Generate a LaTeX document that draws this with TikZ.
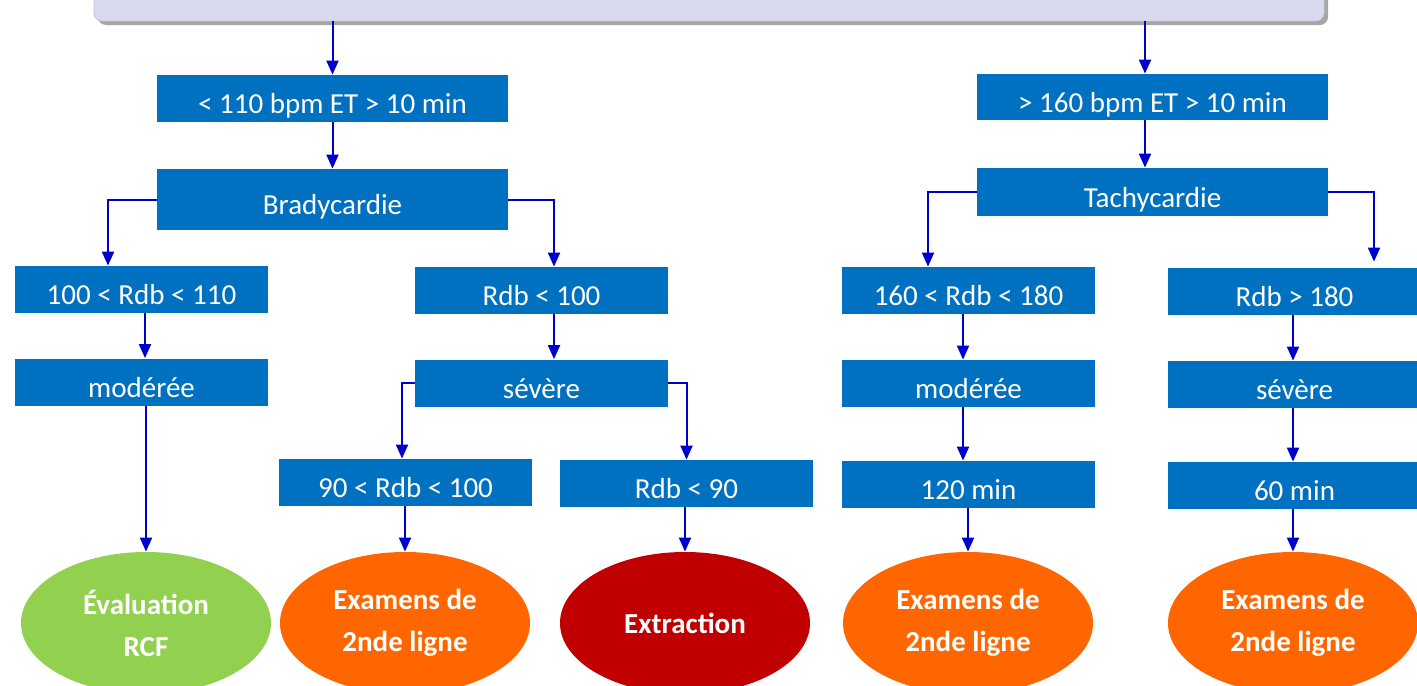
\documentclass[tikz,border=0pt]{standalone}
\usepackage{fontspec}
\setmainfont{Carlito}
\usepackage{xcolor}
\usetikzlibrary{arrows.meta}
\usetikzlibrary{shapes.geometric}
\usetikzlibrary{shadows}

\definecolor{boite}{HTML}{0070C0}
\definecolor{trait}{HTML}{0000CC}
\definecolor{vert}{HTML}{92D050}
\definecolor{orange}{HTML}{FF6600}
\definecolor{rouge}{HTML}{C00000}
\definecolor{lavande}{HTML}{DADAEE}
\definecolor{bordure}{HTML}{C2C2DE}

\begin{document}
\begin{tikzpicture}
    [x=0.5pt, y=-0.5pt,
    etape/.style={rectangle, fill=boite, text=white, inner sep=0pt, text height=17pt, text depth=2pt, font=\fontsize{14.5}{17}\selectfont},
    issue/.style={ellipse, text=white, inner sep=0pt, minimum width=125pt, minimum height=71pt, align=center, font=\fontsize{14.5}{21}\selectfont\bfseries},
    fleche/.style={draw=trait, line width=1pt, -{Triangle[length=7pt,width=6pt]}}]
    \useasboundingbox (0,0) rectangle (1417,685);
    \clip (0,0) rectangle (1417,685);

    \node(titre)[rectangle, rounded corners=4pt, draw=bordure, fill=lavande, minimum width=615pt, minimum height=26pt,
        drop shadow={shadow xshift=2pt, shadow yshift=-2pt, fill=black!35, opacity=1}] at (709,-5) {};

    % boites
    \foreach \n/\x/\y/\w/\h/\t in {seuilBrady/332.5/98.5/175.5/23.5/{< 110 bpm ET > 10 min},
        seuilTachy/1152.5/97/175.5/23/{> 160 bpm ET > 10 min},
        brady/332.5/199.5/175.5/30.5/Bradycardie,
        tachy/1152.5/192/175.5/24/Tachycardie,
        c1/141.5/289.5/126.5/23.5/{100 < Rdb < 110},
        c2/541.5/290.5/126.5/23.5/{Rdb < 100},
        c3/968.5/290.5/126.5/23.5/{160 < Rdb < 180},
        c4/1294.5/291.5/126.5/23.5/{Rdb > 180},
        m1/141.5/382/126.5/23.5/modérée,
        s1/541.5/383/126.5/23.5/sévère,
        m2/968.5/383.5/126.5/23.5/modérée,
        s2/1294.5/384.5/126.5/23.5/sévère,
        d1/405.5/482.5/126.5/23.5/{90 < Rdb < 100},
        d2/686.5/483.5/126.5/23.5/{Rdb < 90},
        t1/968.5/484.5/126.5/23.5/{120 min},
        t2/1294.5/485.5/126.5/23.5/{60 min}}{
        \node(\n)[etape, minimum width=\w pt, minimum height=\h pt] at (\x,\y) {\t};
    }

    % issues
    \foreach \n/\x/\z/\t in {e1/146/vert/{Évaluation\\RCF},
        e2/405/orange/{Examens de\\2nde ligne},
        e3/685/rouge/Extraction,
        e4/968/orange/{Examens de\\2nde ligne},
        e5/1293/orange/{Examens de\\2nde ligne}}{
        \node(\n)[issue, fill=\z] at (\x,623) {\t};
    }

    % fleches
    \draw[fleche] (titre.south -| seuilBrady.north) -- (seuilBrady.north);
    \draw[fleche] ([xshift=-3.75pt]seuilTachy.north |- titre.south) -- ([xshift=-3.75pt]seuilTachy.north);
    \draw[fleche] (brady.west) -| ([xshift=-16.75pt]c1.north);
    \draw[fleche] (brady.east) -| ([xshift=6.25pt]c2.north);
    \draw[fleche] (tachy.west) -| ([xshift=-20.25pt]c3.north);
    \draw[fleche] (tachy.east) -| ([xshift=39.75pt,yshift=3pt]c4.north);
    \draw[fleche] (s1.west) -| ([xshift=-1.75pt]d1.north);
    \draw[fleche] (s1.east) -| (d2.north);
    \foreach \a/\b/\d in {seuilBrady/brady/0, seuilTachy/tachy/-3.75, c1/m1/1.75, c2/s1/6.25, c3/m2/-2.75,
        c4/s2/-0.75, m2/t1/-2.75, s2/t2/-0.75}{
        \draw[fleche] ([xshift=\d pt]\a.south) -- ([xshift=\d pt]\b.north);
    }
    \foreach \a/\b in {m1/e1, d1/e2, d2/e3, t1/e4, t2/e5}{
        \draw[fleche] (\b.north |- \a.south) -- (\b.north);
    }
\end{tikzpicture}
\end{document}
